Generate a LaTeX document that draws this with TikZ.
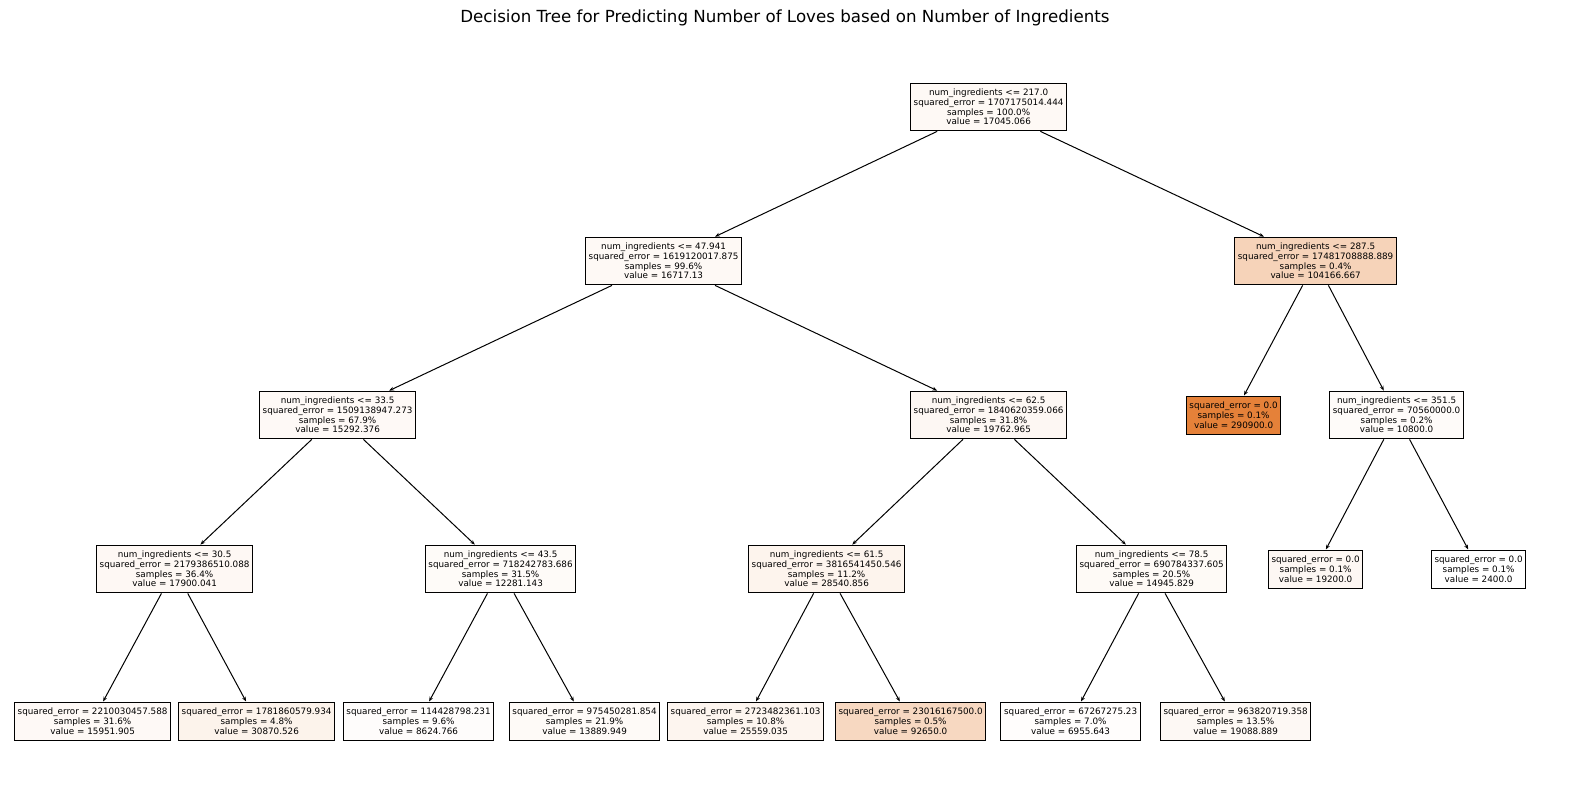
\documentclass[tikz,border=0pt]{standalone}
\usepackage{fontspec}
\setmainfont{DejaVu Sans}
\usetikzlibrary{arrows.meta}
\definecolor{c0}{RGB}{254,249,245}
\definecolor{c1}{RGB}{254,249,245}
\definecolor{c2}{RGB}{246,211,185}
\definecolor{c3}{RGB}{254,249,246}
\definecolor{c4}{RGB}{253,247,243}
\definecolor{c5}{RGB}{229,129,57}
\definecolor{c6}{RGB}{254,251,249}
\definecolor{c7}{RGB}{254,248,244}
\definecolor{c8}{RGB}{254,251,248}
\definecolor{c9}{RGB}{253,244,237}
\definecolor{c10}{RGB}{254,250,246}
\definecolor{c11}{RGB}{253,247,243}
\definecolor{c12}{RGB}{255,255,255}
\definecolor{c13}{RGB}{254,249,246}
\definecolor{c14}{RGB}{252,243,235}
\definecolor{c15}{RGB}{254,252,251}
\definecolor{c16}{RGB}{254,250,247}
\definecolor{c17}{RGB}{253,245,239}
\definecolor{c18}{RGB}{247,216,193}
\definecolor{c19}{RGB}{255,253,252}
\definecolor{c20}{RGB}{253,248,244}
\begin{document}
\begin{tikzpicture}[x=0.75pt,y=-0.75pt,
  tnode/.style={draw=black,line width=0.75pt,align=center,inner xsep=2.4pt,inner ysep=4.4pt,
    font=\fontsize{6.6}{7.3}\selectfont},
  edge/.style={line width=0.75pt,-{Stealth[length=3.6pt,width=2.8pt]}}]
\useasboundingbox (0,0) rectangle (1570,810);
\node[font=\fontsize{12.5}{14}\selectfont] (title) at (785,17.5) {Decision Tree for Predicting Number of Loves based on Number of Ingredients};
\begin{scope}[xshift=1.2pt]
% level 0
\node[tnode,fill=c0] (n0) at (987,107) {num\_ingredients <= 217.0\\squared\_error = 1707175014.444\\samples = 100.0\%\\value = 17045.066};
% level 1
\node[tnode,fill=c1] (n1) at (662,261) {num\_ingredients <= 47.941\\squared\_error = 1619120017.875\\samples = 99.6\%\\value = 16717.13};
\node[tnode,fill=c2] (n2) at (1314,261) {num\_ingredients <= 287.5\\squared\_error = 17481708888.889\\samples = 0.4\%\\value = 104166.667};
% level 2
\node[tnode,fill=c3] (n3) at (336,415) {num\_ingredients <= 33.5\\squared\_error = 1509138947.273\\samples = 67.9\%\\value = 15292.376};
\node[tnode,fill=c4] (n4) at (987,415) {num\_ingredients <= 62.5\\squared\_error = 1840620359.066\\samples = 31.8\%\\value = 19762.965};
\node[tnode,fill=c5] (n5) at (1232,415) {squared\_error = 0.0\\samples = 0.1\%\\value = 290900.0};
\node[tnode,fill=c6] (n6) at (1395,415) {num\_ingredients <= 351.5\\squared\_error = 70560000.0\\samples = 0.2\%\\value = 10800.0};
% level 3
\node[tnode,fill=c7] (n7) at (173,569) {num\_ingredients <= 30.5\\squared\_error = 2179386510.088\\samples = 36.4\%\\value = 17900.041};
\node[tnode,fill=c8] (n8) at (499,569) {num\_ingredients <= 43.5\\squared\_error = 718242783.686\\samples = 31.5\%\\value = 12281.143};
\node[tnode,fill=c9] (n9) at (825,569) {num\_ingredients <= 61.5\\squared\_error = 3816541450.546\\samples = 11.2\%\\value = 28540.856};
\node[tnode,fill=c10] (n10) at (1150,569) {num\_ingredients <= 78.5\\squared\_error = 690784337.605\\samples = 20.5\%\\value = 14945.829};
\node[tnode,fill=c11] (n11) at (1314,569) {squared\_error = 0.0\\samples = 0.1\%\\value = 19200.0};
\node[tnode,fill=c12] (n12) at (1477,569) {squared\_error = 0.0\\samples = 0.1\%\\value = 2400.0};
% level 4
\node[tnode,fill=c13] (n13) at (91,721) {squared\_error = 2210030457.588\\samples = 31.6\%\\value = 15951.905};
\node[tnode,fill=c14] (n14) at (255,721) {squared\_error = 1781860579.934\\samples = 4.8\%\\value = 30870.526};
\node[tnode,fill=c15] (n15) at (417,721) {squared\_error = 114428798.231\\samples = 9.6\%\\value = 8624.766};
\node[tnode,fill=c16] (n16) at (583,721) {squared\_error = 975450281.854\\samples = 21.9\%\\value = 13889.949};
\node[tnode,fill=c17] (n17) at (744,721) {squared\_error = 2723482361.103\\samples = 10.8\%\\value = 25559.035};
\node[tnode,fill=c18] (n18) at (909,721) {squared\_error = 23016167500.0\\samples = 0.5\%\\value = 92650.0};
\node[tnode,fill=c19] (n19) at (1069,721) {squared\_error = 67267275.23\\samples = 7.0\%\\value = 6955.643};
\node[tnode,fill=c20] (n20) at (1234,721) {squared\_error = 963820719.358\\samples = 13.5\%\\value = 19088.889};
\end{scope}
% edges
\draw[edge] (n0) -- (n1);
\draw[edge] (n0) -- (n2);
\draw[edge] (n1) -- (n3);
\draw[edge] (n1) -- (n4);
\draw[edge] (n2) -- (n5);
\draw[edge] (n2) -- (n6);
\draw[edge] (n3) -- (n7);
\draw[edge] (n3) -- (n8);
\draw[edge] (n4) -- (n9);
\draw[edge] (n4) -- (n10);
\draw[edge] (n6) -- (n11);
\draw[edge] (n6) -- (n12);
\draw[edge] (n7) -- (n13);
\draw[edge] (n7) -- (n14);
\draw[edge] (n8) -- (n15);
\draw[edge] (n8) -- (n16);
\draw[edge] (n9) -- (n17);
\draw[edge] (n9) -- (n18);
\draw[edge] (n10) -- (n19);
\draw[edge] (n10) -- (n20);
\end{tikzpicture}
\end{document}
